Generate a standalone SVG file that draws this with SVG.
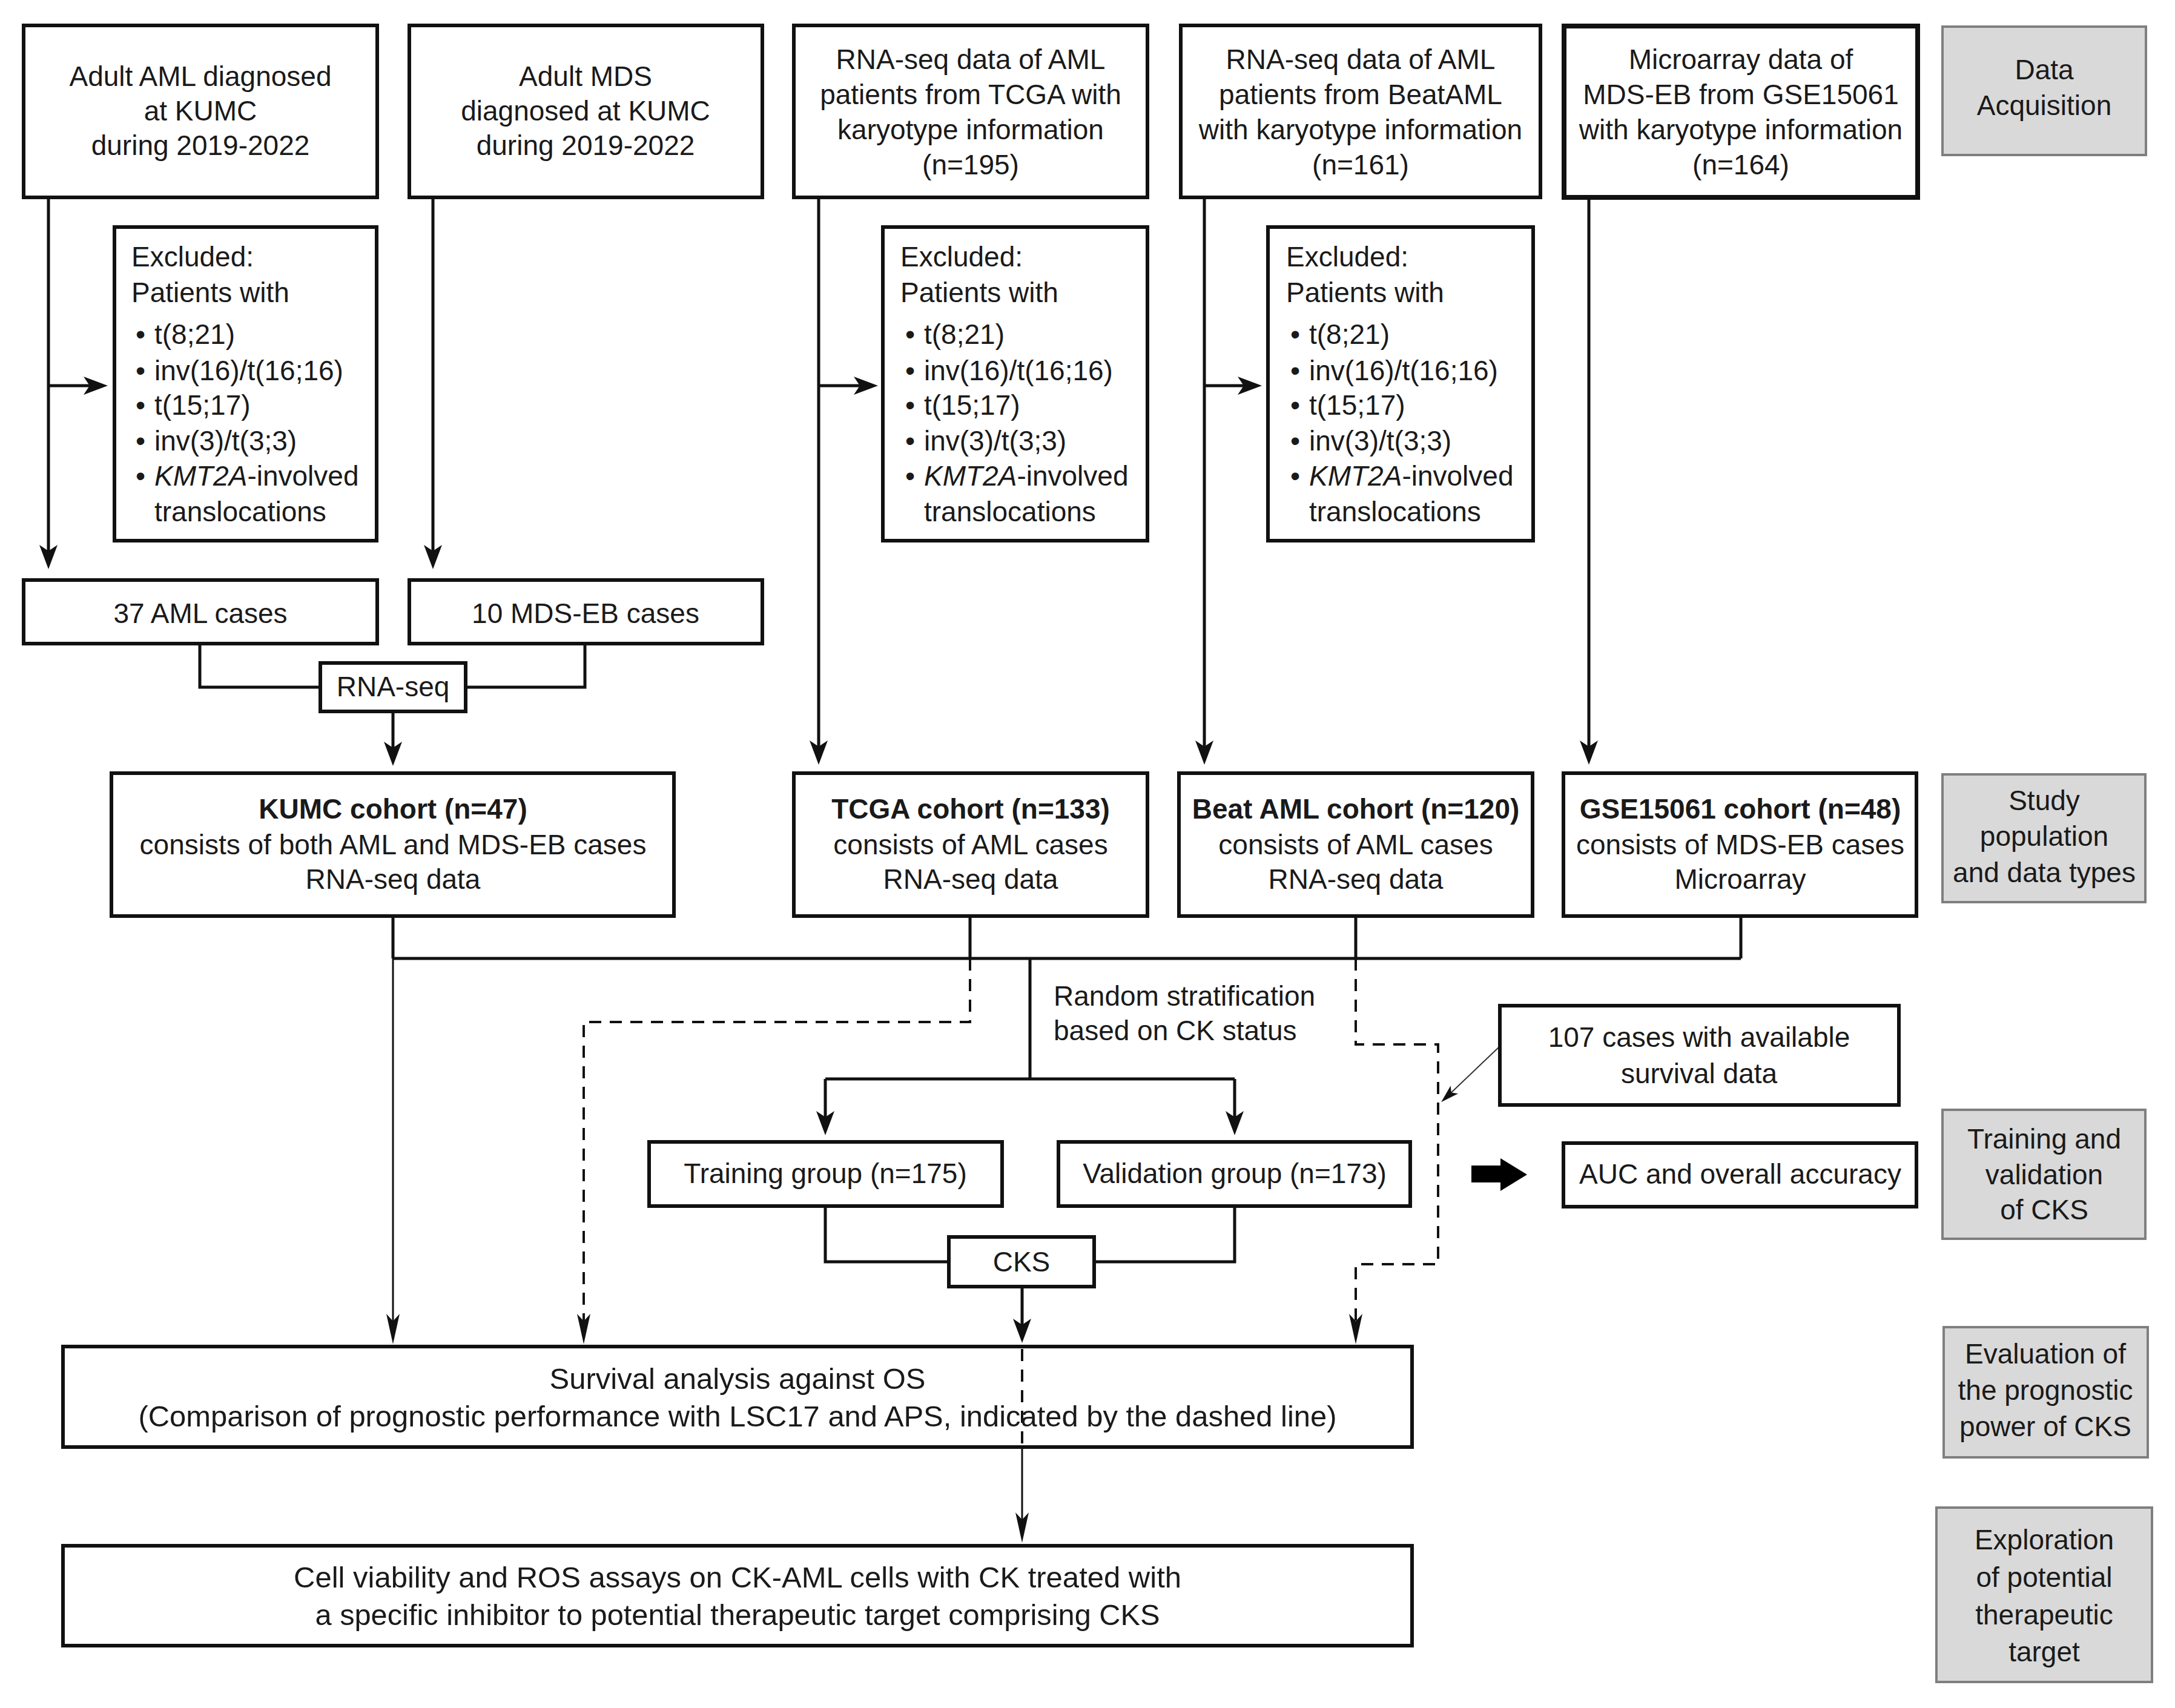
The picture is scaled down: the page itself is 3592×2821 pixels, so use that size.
<svg xmlns="http://www.w3.org/2000/svg" width="3592" height="2821" viewBox="0 0 3592 2821">
<defs>
<style>
text{font-family:"Liberation Sans",Arial,sans-serif;font-size:46px;fill:#1a1a1a}
.c{text-anchor:middle}
.b{font-weight:bold}
.w{font-size:48px}
.box{fill:#fff;stroke:#111;stroke-width:6}
.gray{fill:#d9d9d9;stroke:#7f7f7f;stroke-width:4}
.ln{fill:none;stroke:#111;stroke-width:5}
.thin{fill:none;stroke:#111;stroke-width:3}
.dash{fill:none;stroke:#111;stroke-width:4;stroke-dasharray:20 14}
</style>
<marker id="ah" viewBox="-22 -16 44 32" refX="0" refY="0" markerWidth="44" markerHeight="32" markerUnits="userSpaceOnUse" orient="auto">
<path d="M20,0 L-20,-15 L-10,0 L-20,15 Z" fill="#111"/>
</marker>
<marker id="an" viewBox="-27 -12 54 24" refX="0" refY="0" markerWidth="54" markerHeight="24" markerUnits="userSpaceOnUse" orient="auto">
<path d="M25,0 L-25,-11 L-13,0 L-25,11 Z" fill="#111"/>
</marker>
<marker id="as" viewBox="-17 -10 34 20" refX="0" refY="0" markerWidth="34" markerHeight="20" markerUnits="userSpaceOnUse" orient="auto">
<path d="M15,0 L-15,-9 L-8,0 L-15,9 Z" fill="#111"/>
</marker>
</defs>
<rect width="3592" height="2821" fill="#fff"/>

<g id="connectors">
<path class="ln" d="M80,326 V920" marker-end="url(#ah)"/>
<path class="ln" d="M80,637 H158" marker-end="url(#ah)"/>
<path class="ln" d="M715,326 V920" marker-end="url(#ah)"/>
<path class="ln" d="M1352,326 V1243" marker-end="url(#ah)"/>
<path class="ln" d="M1352,637 H1430" marker-end="url(#ah)"/>
<path class="ln" d="M1989,326 V1243" marker-end="url(#ah)"/>
<path class="ln" d="M1989,637 H2064" marker-end="url(#ah)"/>
<path class="ln" d="M2624,326 V1243" marker-end="url(#ah)"/>
<path class="ln" d="M330,1063 V1135 H529"/>
<path class="ln" d="M966,1063 V1135 H769"/>
<path class="ln" d="M649,1175 V1245" marker-end="url(#ah)"/>
<path class="ln" d="M649,1513 V1583 M1602,1513 V1583 M2239,1513 V1583 M2875,1513 V1583 M649,1583 H2875"/>
<path class="ln" d="M1701,1583 V1782 M1363,1782 H2039"/>
<path class="ln" d="M1363,1782 V1855" marker-end="url(#ah)"/>
<path class="ln" d="M2039,1782 V1855" marker-end="url(#ah)"/>
<path class="ln" d="M1363,1992 V2084 H1567"/>
<path class="ln" d="M2039,1992 V2084 H1807"/>
<path class="ln" d="M1688,2125 V2198" marker-end="url(#ah)"/>
<path class="thin" d="M649,1583 V2195" marker-end="url(#an)"/>
<path class="thin" d="M1688,2390 V2523" marker-end="url(#an)"/>
<path class="dash" d="M1602,1583 V1688 H964 V2195" marker-end="url(#an)"/>
<path class="dash" d="M2239,1583 V1725 H2375 V2088 H2239 V2195" marker-end="url(#an)"/>
<path class="dash" d="M1688,2228 V2390"/>
<path fill="none" stroke="#333" stroke-width="2" d="M2478,1727 L2391,1810" marker-end="url(#as)"/>
<polygon points="2430,1925 2478,1925 2478,1913 2522,1940 2478,1967 2478,1953 2430,1953" fill="#000"/>
</g>

<g id="n-aml-kumc">
<rect class="box" x="39" y="42" width="584" height="284"/>
<text class="c" x="331" y="142">Adult AML diagnosed</text>
<text class="c" x="331" y="199">at KUMC</text>
<text class="c" x="331" y="256">during 2019-2022</text>
</g>
<g id="n-mds-kumc">
<rect class="box" x="676" y="42" width="583" height="284"/>
<text class="c" x="967" y="142">Adult MDS</text>
<text class="c" x="967" y="199">diagnosed at KUMC</text>
<text class="c" x="967" y="256">during 2019-2022</text>
</g>
<g id="n-tcga">
<rect class="box" x="1311" y="42" width="584" height="284"/>
<text class="c" x="1603" y="114">RNA-seq data of AML</text>
<text class="c" x="1603" y="172">patients from TCGA with</text>
<text class="c" x="1603" y="230">karyotype information</text>
<text class="c" x="1603" y="288">(n=195)</text>
</g>
<g id="n-beataml">
<rect class="box" x="1950" y="42" width="594" height="284"/>
<text class="c" x="2247" y="114">RNA-seq data of AML</text>
<text class="c" x="2247" y="172">patients from BeatAML</text>
<text class="c" x="2247" y="230">with karyotype information</text>
<text class="c" x="2247" y="288">(n=161)</text>
</g>
<g id="n-gse">
<rect class="box" x="2583" y="43" width="584" height="283" style="stroke-width:8"/>
<text class="c" x="2875" y="114">Microarray data of</text>
<text class="c" x="2875" y="172">MDS-EB from GSE15061</text>
<text class="c" x="2875" y="230">with karyotype information</text>
<text class="c" x="2875" y="288">(n=164)</text>
</g>
<g id="lbl-acq">
<rect class="gray" x="3208" y="44" width="336" height="212"/>
<text class="c" x="3376" y="131">Data</text>
<text class="c" x="3376" y="190">Acquisition</text>
</g>

<g id="n-excl-1">
<rect class="box" x="189" y="375" width="433" height="518"/>
<text x="217" y="440">Excluded:</text>
<text x="217" y="499">Patients with</text>
<text x="224" y="568">•</text><text x="255" y="568">t(8;21)</text>
<text x="224" y="628">•</text><text x="255" y="628">inv(16)/t(16;16)</text>
<text x="224" y="685">•</text><text x="255" y="685">t(15;17)</text>
<text x="224" y="744">•</text><text x="255" y="744">inv(3)/t(3;3)</text>
<text x="224" y="802">•</text><text x="255" y="802"><tspan font-style="italic">KMT2A</tspan>-involved</text>
<text x="255" y="861">translocations</text>
</g>
<g id="n-excl-2">
<rect class="box" x="1458" y="375" width="437" height="518"/>
<text x="1487" y="440">Excluded:</text>
<text x="1487" y="499">Patients with</text>
<text x="1495" y="568">•</text><text x="1526" y="568">t(8;21)</text>
<text x="1495" y="628">•</text><text x="1526" y="628">inv(16)/t(16;16)</text>
<text x="1495" y="685">•</text><text x="1526" y="685">t(15;17)</text>
<text x="1495" y="744">•</text><text x="1526" y="744">inv(3)/t(3;3)</text>
<text x="1495" y="802">•</text><text x="1526" y="802"><tspan font-style="italic">KMT2A</tspan>-involved</text>
<text x="1526" y="861">translocations</text>
</g>
<g id="n-excl-3">
<rect class="box" x="2094" y="375" width="438" height="518"/>
<text x="2124" y="440">Excluded:</text>
<text x="2124" y="499">Patients with</text>
<text x="2131" y="568">•</text><text x="2162" y="568">t(8;21)</text>
<text x="2131" y="628">•</text><text x="2162" y="628">inv(16)/t(16;16)</text>
<text x="2131" y="685">•</text><text x="2162" y="685">t(15;17)</text>
<text x="2131" y="744">•</text><text x="2162" y="744">inv(3)/t(3;3)</text>
<text x="2131" y="802">•</text><text x="2162" y="802"><tspan font-style="italic">KMT2A</tspan>-involved</text>
<text x="2162" y="861">translocations</text>
</g>

<g id="n-37aml">
<rect class="box" x="39" y="958" width="584" height="105"/>
<text class="c" x="331" y="1029">37 AML cases</text>
</g>
<g id="n-10mds">
<rect class="box" x="676" y="958" width="583" height="105"/>
<text class="c" x="967" y="1029">10 MDS-EB cases</text>
</g>
<g id="n-rnaseq">
<rect class="box" x="529" y="1095" width="240" height="80"/>
<text class="c" x="649" y="1150">RNA-seq</text>
</g>

<g id="n-kumc-cohort">
<rect class="box" x="184" y="1277" width="929" height="236"/>
<text class="c b" x="649" y="1352">KUMC cohort (n=47)</text>
<text class="c" x="649" y="1411">consists of both AML and MDS-EB cases</text>
<text class="c" x="649" y="1468">RNA-seq data</text>
</g>
<g id="n-tcga-cohort">
<rect class="box" x="1311" y="1277" width="584" height="236"/>
<text class="c b" x="1603" y="1352">TCGA cohort (n=133)</text>
<text class="c" x="1603" y="1411">consists of AML cases</text>
<text class="c" x="1603" y="1468">RNA-seq data</text>
</g>
<g id="n-beat-cohort">
<rect class="box" x="1947" y="1277" width="584" height="236"/>
<text class="c b" x="2239" y="1352">Beat AML cohort (n=120)</text>
<text class="c" x="2239" y="1411">consists of AML cases</text>
<text class="c" x="2239" y="1468">RNA-seq data</text>
</g>
<g id="n-gse-cohort">
<rect class="box" x="2582" y="1277" width="583" height="236"/>
<text class="c b" x="2874" y="1352">GSE15061 cohort (n=48)</text>
<text class="c" x="2874" y="1411">consists of MDS-EB cases</text>
<text class="c" x="2874" y="1468">Microarray</text>
</g>
<g id="lbl-study">
<rect class="gray" x="3208" y="1279" width="335" height="211"/>
<text class="c" x="3376" y="1338">Study</text>
<text class="c" x="3376" y="1397">population</text>
<text class="c" x="3376" y="1457">and data types</text>
</g>

<g id="lbl-strat">
<text x="1740" y="1661">Random stratification</text>
<text x="1740" y="1718">based on CK status</text>
</g>
<g id="n-107">
<rect class="box" x="2477" y="1661" width="659" height="164"/>
<text class="c" x="2806" y="1729">107 cases with available</text>
<text class="c" x="2806" y="1789">survival data</text>
</g>
<g id="n-training">
<rect class="box" x="1072" y="1886" width="583" height="106"/>
<text class="c" x="1363" y="1954">Training group (n=175)</text>
</g>
<g id="n-validation">
<rect class="box" x="1748" y="1886" width="581" height="106"/>
<text class="c" x="2039" y="1954">Validation group (n=173)</text>
</g>
<g id="n-auc">
<rect class="box" x="2582" y="1888" width="583" height="105"/>
<text class="c" x="2874" y="1955">AUC and overall accuracy</text>
</g>
<g id="lbl-train">
<rect class="gray" x="3208" y="1833" width="335" height="213"/>
<text class="c" x="3376" y="1897">Training and</text>
<text class="c" x="3376" y="1956">validation</text>
<text class="c" x="3376" y="2014">of CKS</text>
</g>
<g id="n-cks">
<rect class="box" x="1567" y="2043" width="240" height="82"/>
<text class="c" x="1687" y="2100">CKS</text>
</g>

<g id="n-survival">
<rect class="box" x="104" y="2224" width="2228" height="166" style="fill:none"/>
<text class="c w" x="1218" y="2294" textLength="621" lengthAdjust="spacingAndGlyphs">Survival analysis against OS</text>
<text class="c w" x="1218" y="2356" textLength="1979" lengthAdjust="spacingAndGlyphs">(Comparison of prognostic performance with LSC17 and APS, indicated by the dashed line)</text>
</g>
<g id="lbl-eval">
<rect class="gray" x="3210" y="2192" width="337" height="215"/>
<text class="c" x="3378" y="2252">Evaluation of</text>
<text class="c" x="3378" y="2312">the prognostic</text>
<text class="c" x="3378" y="2372">power of CKS</text>
</g>
<g id="n-final">
<rect class="box" x="104" y="2553" width="2228" height="165"/>
<text class="c w" x="1218" y="2622" textLength="1466" lengthAdjust="spacingAndGlyphs">Cell viability and ROS assays on CK-AML cells with CK treated with</text>
<text class="c w" x="1218" y="2684" textLength="1395" lengthAdjust="spacingAndGlyphs">a specific inhibitor to potential therapeutic target comprising CKS</text>
</g>
<g id="lbl-explore">
<rect class="gray" x="3198" y="2490" width="356" height="288"/>
<text class="c" x="3376" y="2559">Exploration</text>
<text class="c" x="3376" y="2621">of potential</text>
<text class="c" x="3376" y="2683">therapeutic</text>
<text class="c" x="3376" y="2744">target</text>
</g>
</svg>
